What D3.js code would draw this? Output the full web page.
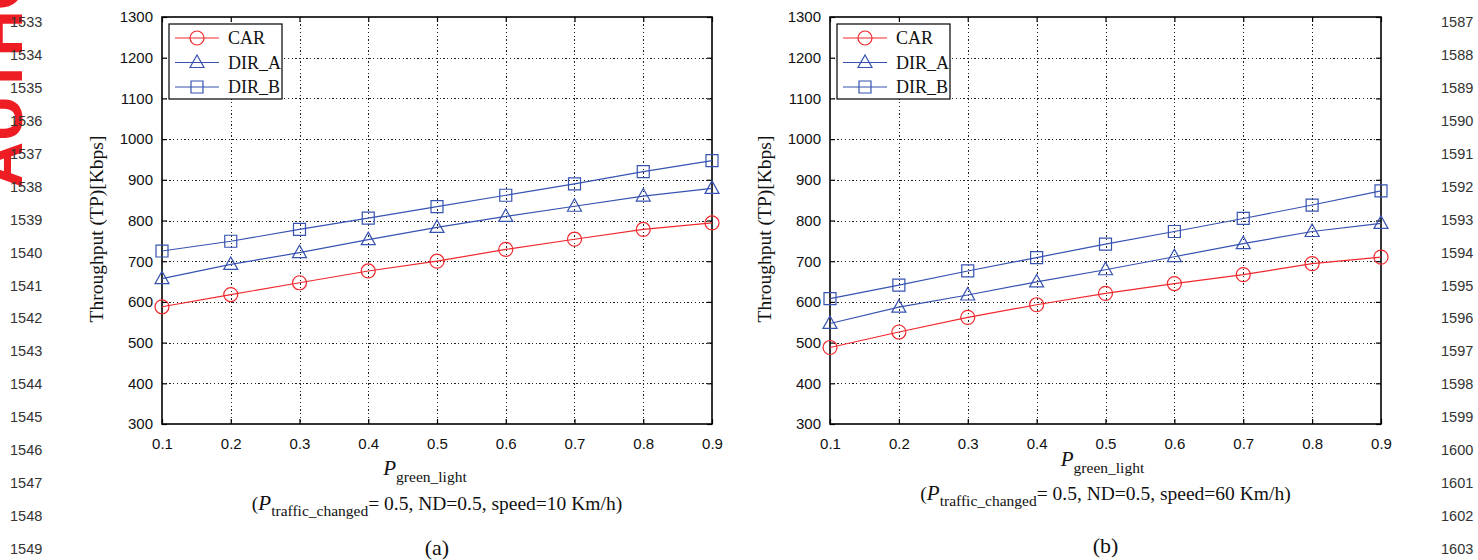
<!DOCTYPE html>
<html>
<head>
<meta charset="utf-8">
<script src="https://cdn.jsdelivr.net/npm/d3@7"></script>
<style>
  html, body { margin: 0; padding: 0; background: #fff; }
  svg { display: block; }
</style>
</head>
<body>
<svg id="fig" width="1478" height="560"></svg>
<script>
// Probability of a green light on the x axis
const pGreen = [0.1, 0.2, 0.3, 0.4, 0.5, 0.6, 0.7, 0.8, 0.9];

// Throughput [Kbps] at speed = 10 Km/h
const carSlow  = [588, 618, 647, 676, 700, 729, 754, 778, 794];
const dirASlow = [657, 692, 721, 753, 783, 810, 835, 860, 879];
const dirBSlow = [725, 749, 778, 806, 834, 862, 890, 920, 947];

// Throughput [Kbps] at speed = 60 Km/h
const carFast  = [488, 526, 562, 593, 621, 645, 667, 694, 710];
const dirAFast = [547, 587, 617, 649, 679, 711, 743, 773, 793];
const dirBFast = [608, 641, 676, 709, 742, 773, 805, 838, 873];

const seriesNames = ["CAR", "DIR_A", "DIR_B"];
const yTicks = [300, 400, 500, 600, 700, 800, 900, 1000, 1100, 1200, 1300];
const xTicks = [0.1, 0.2, 0.3, 0.4, 0.5, 0.6, 0.7, 0.8, 0.9];
const speeds = ["10", "60"];
const panelTags = ["(a)", "(b)"];

// Manuscript line numbers in both margins
const leftLineNumbers  = d3.range(1533, 1550);
const rightLineNumbers = d3.range(1587, 1604);

const RED = "#f0282d";
const BLUE = "#3753b0";
const styles = {
  CAR:   { color: RED,  marker: "circle" },
  DIR_A: { color: BLUE, marker: "triangle" },
  DIR_B: { color: BLUE, marker: "square" }
};

const svg = d3.select("#fig");
const SERIF = "'Liberation Serif', 'Times New Roman', serif";
const SANS = "'Liberation Sans', Arial, Helvetica, sans-serif";

// Red stamp at the left edge (drawn under the line numbers)
svg.append("text")
  .attr("transform", "translate(22,188) rotate(-90)")
  .attr("font-family", SANS)
  .attr("font-weight", "bold")
  .attr("font-size", 64)
  .attr("fill", "#ee1d23")
  .text("AUTHOR");

// Line numbers
const lnY = d3.scaleLinear().domain([0, 16]).range([27, 554]);
svg.append("g").selectAll("text").data(leftLineNumbers).join("text")
  .attr("x", 10).attr("y", (d, i) => lnY(i))
  .attr("font-family", SANS).attr("font-size", 14.5).attr("fill", "#333")
  .text(d => d);
svg.append("g").selectAll("text").data(rightLineNumbers).join("text")
  .attr("x", 1441).attr("y", (d, i) => lnY(i))
  .attr("font-family", SANS).attr("font-size", 14.5).attr("fill", "#333")
  .text(d => d);

function markerPath(type) {
  if (type === "circle") return d3.symbol(d3.symbolCircle, Math.PI * 7 * 7)();
  if (type === "square") return "M-6,-6H6V6H-6Z";
  return "M0,-7.5L7,5L-7,5Z";
}

const panels = [
  { x0: 162, x1: 712, data: [carSlow, dirASlow, dirBSlow], xlabelDx: -12, xlabelY: 475, noteY: 510, tagY: 555 },
  { x0: 830, x1: 1381, data: [carFast, dirAFast, dirBFast], xlabelDx: -3, xlabelY: 466, noteY: 500, tagY: 553 }
];

panels.forEach((p, pi) => {
  const top = 17, bottom = 424;
  const x = d3.scaleLinear().domain([0.1, 0.9]).range([p.x0, p.x1]);
  const y = d3.scaleLinear().domain([300, 1300]).range([bottom, top]);
  const g = svg.append("g");
  const cx = (p.x0 + p.x1) / 2;

  // Dotted grid
  const grid = g.append("g").attr("stroke", "#222").attr("stroke-width", 1)
    .attr("stroke-dasharray", "1.3,2.4").attr("shape-rendering", "crispEdges");
  grid.selectAll("line.v").data(xTicks.slice(1, -1)).join("line")
    .attr("x1", d => Math.round(x(d)) + 0.5).attr("x2", d => Math.round(x(d)) + 0.5)
    .attr("y1", top).attr("y2", bottom);
  grid.selectAll("line.h").data(yTicks.slice(1, -1)).join("line")
    .attr("x1", p.x0).attr("x2", p.x1)
    .attr("y1", d => Math.round(y(d)) + 0.5).attr("y2", d => Math.round(y(d)) + 0.5);

  // Axes with tick labels (ticks point inward)
  const axL = g.append("g").attr("transform", `translate(${p.x0},0)`)
    .call(d3.axisLeft(y).tickValues(yTicks).tickSize(-5).tickPadding(14).tickFormat(d3.format("d")));
  const axB = g.append("g").attr("transform", `translate(0,${bottom})`)
    .call(d3.axisBottom(x).tickValues(xTicks).tickSize(-5).tickPadding(14).tickFormat(d3.format(".1f")));
  const axR = g.append("g").attr("transform", `translate(${p.x1},0)`)
    .call(d3.axisRight(y).tickValues(yTicks).tickSize(-5).tickFormat(""));
  const axT = g.append("g").attr("transform", `translate(0,${top})`)
    .call(d3.axisTop(x).tickValues(xTicks).tickSize(-5).tickFormat(""));
  [axL, axB, axR, axT].forEach(a => {
    a.select(".domain").remove();
    a.selectAll("line").attr("stroke", "#000").attr("stroke-width", 1.2);
    a.selectAll("text").attr("font-family", SANS).attr("font-size", 15).attr("fill", "#111");
  });
  axL.selectAll("text").attr("dx", 5);

  // Frame
  g.append("rect").attr("x", p.x0).attr("y", top)
    .attr("width", p.x1 - p.x0).attr("height", bottom - top)
    .attr("fill", "none").attr("stroke", "#000").attr("stroke-width", 1.6);

  // Series lines and markers
  const line = d3.line().x((d, i) => x(pGreen[i])).y(d => y(d));
  p.data.forEach((vals, si) => {
    const st = styles[seriesNames[si]];
    g.append("path").datum(vals).attr("d", line)
      .attr("fill", "none").attr("stroke", st.color).attr("stroke-width", 1.2);
    g.append("g").selectAll("path").data(vals).join("path")
      .attr("transform", (d, i) => `translate(${x(pGreen[i])},${y(d)})`)
      .attr("d", markerPath(st.marker))
      .attr("fill", "none").attr("stroke", st.color).attr("stroke-width", 1.2);
  });

  // Legend
  const lg = g.append("g").attr("transform", `translate(${p.x0 + 7},24)`);
  lg.append("rect").attr("width", 113).attr("height", 75)
    .attr("fill", "#fff").attr("stroke", "#000").attr("stroke-width", 1.2);
  seriesNames.forEach((name, i) => {
    const st = styles[name];
    const ry = 14 + i * 24.5;
    lg.append("line").attr("x1", 6).attr("x2", 50).attr("y1", ry).attr("y2", ry)
      .attr("stroke", st.color).attr("stroke-width", 1.2);
    lg.append("path").attr("transform", `translate(28,${ry})`).attr("d", markerPath(st.marker))
      .attr("fill", "none").attr("stroke", st.color).attr("stroke-width", 1.2);
    lg.append("text").attr("x", 59).attr("y", ry + 6)
      .attr("font-family", SERIF).attr("font-size", 18).attr("fill", "#111").text(name);
  });

  // Y axis title
  g.append("text")
    .attr("transform", `translate(${p.x0 - 59},229) rotate(-90)`)
    .attr("text-anchor", "middle")
    .attr("font-family", SERIF).attr("font-size", 19.5).attr("fill", "#111")
    .text("Throughput (TP)[Kbps]");

  // X axis title
  const xl = g.append("text").attr("x", cx + p.xlabelDx).attr("y", p.xlabelY)
    .attr("text-anchor", "middle").attr("font-family", SERIF).attr("fill", "#111");
  xl.append("tspan").attr("font-style", "italic").attr("font-size", 21).text("P");
  xl.append("tspan").attr("font-size", 15.5).attr("dy", 7).text("green_light");

  // Simulation settings note
  const note = g.append("text").attr("x", cx).attr("y", p.noteY)
    .attr("text-anchor", "middle").attr("font-family", SERIF).attr("font-size", 19.5).attr("fill", "#111");
  note.append("tspan").text("(");
  note.append("tspan").attr("font-style", "italic").attr("font-size", 21).text("P");
  note.append("tspan").attr("font-size", 15.5).attr("dy", 6).text("traffic_changed");
  note.append("tspan").attr("dy", -6).text(`= 0.5, ND=0.5, speed=${speeds[pi]} Km/h)`);

  // Panel tag
  g.append("text").attr("x", cx).attr("y", p.tagY).attr("text-anchor", "middle")
    .attr("font-family", SERIF).attr("font-size", 22).attr("fill", "#111").text(panelTags[pi]);
});
</script>
</body>
</html>
